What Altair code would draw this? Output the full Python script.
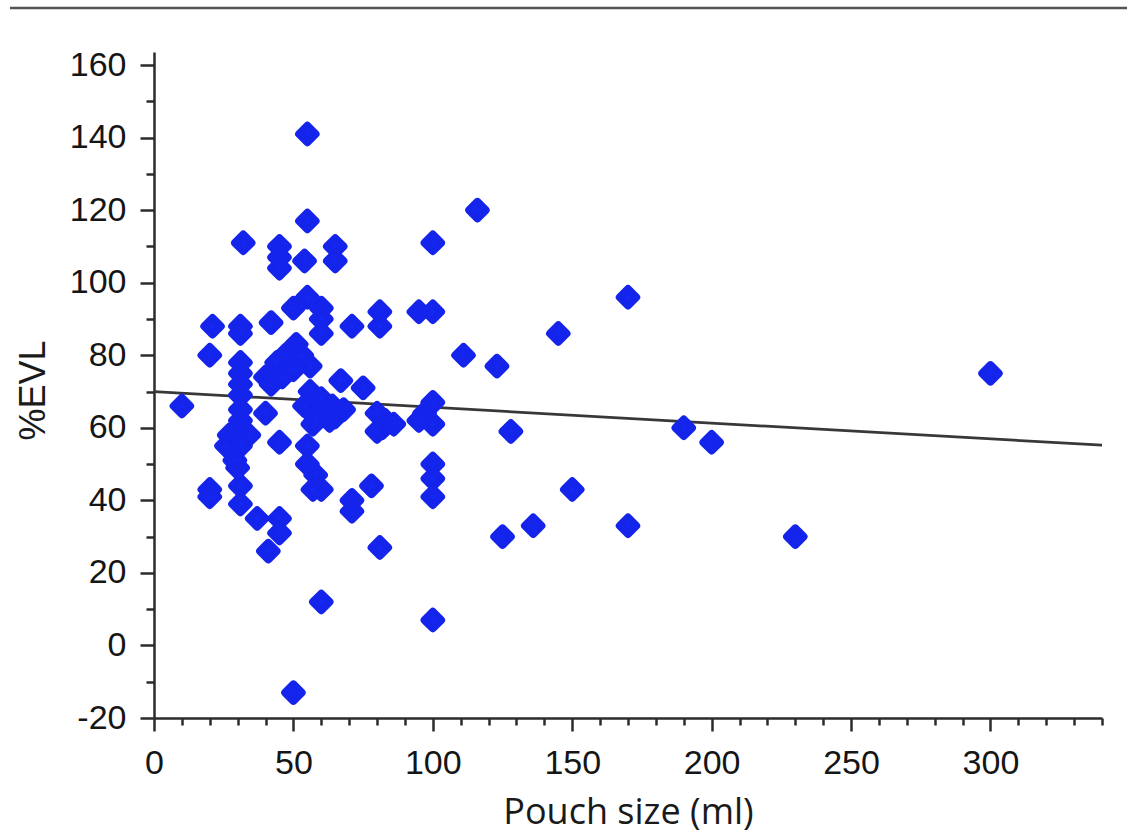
import altair as alt
import pandas as pd

# Pouch size (ml) and %EVL
pouch_size = [10, 21, 31, 31, 42, 60, 60, 60, 71, 81, 81, 20,
              55, 55, 116, 32, 100, 45, 45, 45, 54, 65, 65,
              55, 50, 95, 100, 145, 170, 111, 123,
              100, 97, 100, 95, 128, 83, 86, 190, 200, 300, 230,
              100, 100, 100, 150, 125, 136, 170, 100, 81, 78, 71, 71,
              60, 50, 41, 45, 45, 37, 31, 31, 20, 20, 30,
              55, 55, 58, 60, 57, 45, 27, 34, 26, 31, 29,
              31, 31, 31, 31, 31, 31,
              51, 47, 44, 40, 42, 53, 56, 50, 46, 67, 75, 40,
              56, 60, 64, 68, 54, 59, 63, 57, 58, 65, 80, 82, 80]
pct_ewl = [66, 88, 88, 86, 89, 93, 90, 86, 88, 92, 88, 80,
           141, 117, 120, 111, 111, 110, 107, 104, 106, 110, 106,
           96, 93, 92, 92, 86, 96, 80, 77,
           67, 64, 61, 62, 59, 62, 61, 60, 56, 75, 30,
           50, 46, 41, 43, 30, 33, 33, 7, 27, 44, 40, 37,
           12, -13, 26, 35, 31, 35, 44, 39, 43, 41, 49,
           55, 50, 47, 43, 43, 56, 58, 58, 55, 55, 51,
           78, 75, 72, 69, 65, 62,
           83, 80, 78, 74, 72, 80, 77, 76, 74, 73, 71, 64,
           70, 68, 66, 65, 66, 64, 62, 61, 62, 63, 64, 60, 59]

# regression line end points
fit_x = [0, 340]
fit_y = [70.0, 55.2]

x_ticks = list(range(0, 341, 10))
y_ticks = list(range(-20, 161, 10))

pts = pd.DataFrame({"size": pouch_size, "ewl": pct_ewl})
fit = pd.DataFrame({"size": fit_x, "ewl": fit_y})

AX = "#2b2b2b"
LABEL_FONT = "Liberation Sans"

x_enc = alt.X(
    "size:Q",
    scale=alt.Scale(domain=[0, 340], nice=False, zero=False),
    axis=alt.Axis(
        values=x_ticks,
        labelExpr="datum.value % 50 === 0 ? '' + datum.value : ''",
        tickSize={"condition": {"test": "datum.value % 50 === 0", "value": 13}, "value": 7},
        labelFlush=False,
        labelOverlap=False,
        grid=False,
        domainColor=AX, domainWidth=2.5,
        tickColor=AX, tickWidth=2.5,
        labelFont=LABEL_FONT, labelFontSize=34, labelColor="#151515",
        labelPadding=15,
        title="Pouch size (ml)",
        titleFont="Open Sans", titleFontSize=36, titleFontWeight="normal",
        titleColor="#1a1a1a",
        titleX=474, titleY=105, titleBaseline="alphabetic", titleAlign="center",
    ),
)
y_enc = alt.Y(
    "ewl:Q",
    scale=alt.Scale(domain=[-20, 163.6], nice=False, zero=False),
    axis=alt.Axis(
        values=y_ticks,
        labelExpr="datum.value % 20 === 0 ? '' + datum.value : ''",
        tickSize={"condition": {"test": "datum.value % 20 === 0", "value": 14}, "value": 8},
        labelOverlap=False,
        grid=False,
        domainColor=AX, domainWidth=2.5,
        tickColor=AX, tickWidth=2.5,
        labelFont=LABEL_FONT, labelFontSize=34, labelColor="#151515",
        labelPadding=14,
        title="%EVL",
        titleFont=LABEL_FONT, titleFontSize=36, titleFontWeight="normal",
        titleColor="#1a1a1a",
        titleX=-121, titleY=338, titleAngle=270,
        titleAlign="center", titleBaseline="middle",
    ),
)

top_rule = alt.Chart(pd.DataFrame({"a": [0]})).mark_rule(
    color="#555555", strokeWidth=2.5
).encode(x=alt.value(-144), x2=alt.value(973), y=alt.value(-44))

line = alt.Chart(fit).mark_line(color="#383838", strokeWidth=2.8).encode(
    x=x_enc, y=y_enc
)

points = alt.Chart(pts).mark_point(
    shape="diamond", filled=True, size=270, opacity=1,
    fill="#1428f5", stroke="#1424ea", strokeWidth=8, strokeJoin="round",
).encode(x=x_enc, y=y_enc)

chart = alt.layer(top_rule, line, points).properties(
    width=948, height=666,
    padding={"left": 154, "top": 52, "right": 25, "bottom": 122},
    autosize=alt.AutoSizeParams(type="none"),
    background="white",
).configure_view(stroke=None)

chart.save("out.html", embed_options={"renderer": "svg", "actions": False})
